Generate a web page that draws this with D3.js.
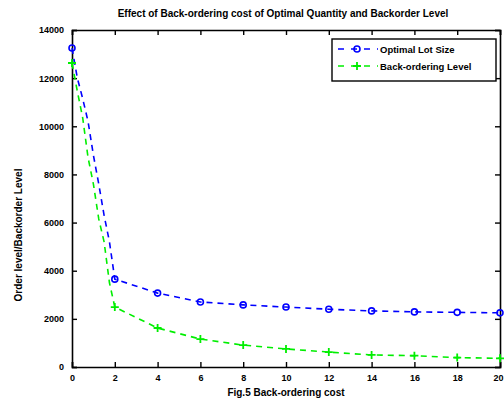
<!DOCTYPE html>
<html>
<head>
<meta charset="utf-8">
<script src="https://cdn.jsdelivr.net/npm/d3@7"></script>
<style>
  html, body { margin: 0; padding: 0; background: #fff; }
  svg text { font-family: "Liberation Sans", Arial, sans-serif; font-weight: bold; fill: #000; }
</style>
</head>
<body>
<div id="chart"></div>
<script>
// back-ordering cost values where markers sit
const costs = [0, 2, 4, 6, 8, 10, 12, 14, 16, 18, 20];
const lotSize = [13250, 3650, 3070, 2700, 2580, 2490, 2400, 2330, 2290, 2270, 2250];
const backorderLevel = [12630, 2490, 1620, 1160, 910, 750, 620, 500, 470, 390, 360];

const steepCosts = [0.25, 0.5, 0.75, 1.0, 1.25, 1.5, 1.75];
const lotSizeSteep = [12000, 11150, 10200, 8800, 7600, 6300, 5200];
const backorderSteep = [11450, 10350, 8700, 7600, 6150, 5200, 3500];

const xTicks = [0, 2, 4, 6, 8, 10, 12, 14, 16, 18, 20];
const yTicks = [0, 2000, 4000, 6000, 8000, 10000, 12000, 14000];

const seriesNames = ["Optimal Lot Size", "Back-ordering Level"];
const seriesColors = ["#0000ff", "#00ee00"];

const W = 504, H = 406;
const margin = { top: 30, right: 4, bottom: 39, left: 72 };
const width = W - margin.left - margin.right;
const height = H - margin.top - margin.bottom;

const svg = d3.select("#chart").append("svg")
    .attr("width", W)
    .attr("height", H);

const g = svg.append("g")
    .attr("transform", `translate(${margin.left},${margin.top})`);

const x = d3.scaleLinear().domain([0, 20]).range([0, width]);
const y = d3.scaleLinear().domain([0, 14000]).range([height, 0]);

// merge steep readings with marker points, sorted by cost
function buildSeries(markVals, steepVals) {
    const pts = costs.map((c, i) => ({ c: c, v: markVals[i] }));
    steepCosts.forEach((c, i) => pts.push({ c: c, v: steepVals[i] }));
    return pts.sort((a, b) => a.c - b.c);
}
const lines = [buildSeries(lotSize, lotSizeSteep), buildSeries(backorderLevel, backorderSteep)];
const marks = [costs.map((c, i) => ({ c: c, v: lotSize[i] })), costs.map((c, i) => ({ c: c, v: backorderLevel[i] }))];

// axes, matlab style: ticks inside on all four sides
const tickLen = 5;
g.append("g")
    .attr("transform", `translate(0,${height})`)
    .call(d3.axisBottom(x).tickValues(xTicks).tickSize(-tickLen).tickPadding(8).tickFormat(d3.format("d")))
    .call(a => a.selectAll("text").attr("font-size", 9))
    .call(a => a.selectAll(".tick:last-of-type text").attr("text-anchor", "end").attr("dx", 3));
g.append("g")
    .call(d3.axisTop(x).tickValues(xTicks).tickSize(-tickLen).tickFormat(""));
g.append("g")
    .call(d3.axisLeft(y).tickValues(yTicks).tickSize(-tickLen).tickPadding(8).tickFormat(d3.format("d")))
    .call(a => a.selectAll("text").attr("font-size", 9));
g.append("g")
    .attr("transform", `translate(${width},0)`)
    .call(d3.axisRight(y).tickValues(yTicks).tickSize(-tickLen).tickFormat(""));

g.selectAll(".domain").attr("stroke", "#000").attr("stroke-width", 1.6);
g.selectAll(".tick line").attr("stroke", "#000").attr("stroke-width", 1.4);

const line = d3.line().x(d => x(d.c)).y(d => y(d.v));

lines.forEach((pts, i) => {
    g.append("path")
        .datum(pts)
        .attr("fill", "none")
        .attr("stroke", seriesColors[i])
        .attr("stroke-width", 1.6)
        .attr("stroke-dasharray", "6,5")
        .attr("d", line);
});

// markers
g.selectAll(".dot")
    .data(marks[0])
    .enter().append("circle")
    .attr("cx", d => x(d.c))
    .attr("cy", d => y(d.v))
    .attr("r", 3)
    .attr("fill", "none")
    .attr("stroke", seriesColors[0])
    .attr("stroke-width", 1.6);

g.selectAll(".plus")
    .data(marks[1])
    .enter().append("path")
    .attr("transform", d => `translate(${x(d.c)},${y(d.v)})`)
    .attr("d", "M-4,0H4M0,-4V4")
    .attr("stroke", seriesColors[1])
    .attr("stroke-width", 1.8);

// legend
const legend = g.append("g").attr("transform", `translate(${width - 168},9)`);
legend.append("rect")
    .attr("width", 164).attr("height", 42)
    .attr("fill", "#fff").attr("stroke", "#000").attr("stroke-width", 1.4);
seriesNames.forEach((name, i) => {
    const ly = 10 + i * 17;
    legend.append("line")
        .attr("x1", 6).attr("x2", 46).attr("y1", ly).attr("y2", ly)
        .attr("stroke", seriesColors[i]).attr("stroke-width", 1.6)
        .attr("stroke-dasharray", "6,7");
    if (i === 0) {
        legend.append("circle").attr("cx", 25).attr("cy", ly).attr("r", 3)
            .attr("fill", "none").attr("stroke", seriesColors[i]).attr("stroke-width", 1.6);
    } else {
        legend.append("path").attr("transform", `translate(25,${ly})`)
            .attr("d", "M-4,0H4M0,-4V4").attr("stroke", seriesColors[i]).attr("stroke-width", 1.8);
    }
    legend.append("text")
        .attr("x", 48).attr("y", ly + 3.5)
        .attr("font-size", 9.5)
        .text(name);
});

// titles
svg.append("text")
    .attr("x", 283).attr("y", 17)
    .attr("text-anchor", "middle")
    .attr("font-size", 10)
    .text("Effect of Back-ordering cost of Optimal Quantity and Backorder Level");

svg.append("text")
    .attr("x", margin.left + width / 2).attr("y", 396)
    .attr("text-anchor", "middle")
    .attr("font-size", 10)
    .text("Fig.5  Back-ordering cost");

svg.append("text")
    .attr("transform", "translate(22,235) rotate(-90)")
    .attr("text-anchor", "middle")
    .attr("font-size", 10)
    .text("Order level/Backorder Level");
</script>
</body>
</html>
